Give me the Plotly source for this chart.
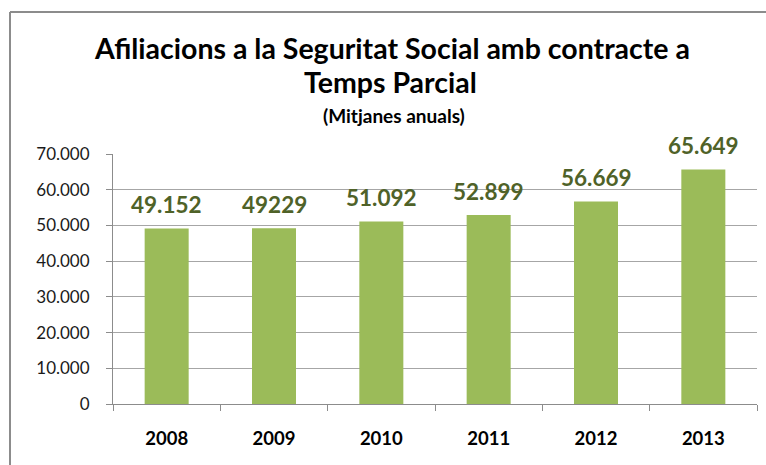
import plotly.graph_objects as go

years = ["2008", "2009", "2010", "2011", "2012", "2013"]
values = [49152, 49229, 51092, 52899, 56669, 65649]
value_labels = ["49.152", "49229", "51.092", "52.899", "56.669", "65.649"]
y_tickvals = [0, 10000, 20000, 30000, 40000, 50000, 60000, 70000]
y_ticktext = ["0", "10.000", "20.000", "30.000", "40.000", "50.000", "60.000", "70.000"]

W, H = 766, 465
L, R, T, B = 113, 9, 154, 61
pw, ph = W - L - R, H - T - B

def px(x):
    return (x - L) / pw

def py(y):
    return (H - B - y) / ph

FONT = "Lato, Calibri, Carlito, sans-serif"

fig = go.Figure()
fig.add_trace(go.Bar(
    x=years, y=values,
    marker=dict(color="#9BBB59", line=dict(width=0)),
    width=0.41,
    hoverinfo="skip",
))

for i, (v, lab) in enumerate(zip(values, value_labels)):
    fig.add_annotation(x=i, y=v, xref="x", yref="y", text=lab,
                       showarrow=False, xanchor="center", yanchor="middle",
                       yshift=24,
                       font=dict(family=FONT, size=22.5, color="#4F6228", weight="bold"))

fig.update_layout(
    width=W, height=H,
    margin=dict(l=L, r=R, t=T, b=B, autoexpand=False),
    paper_bgcolor="white",
    plot_bgcolor="white",
    showlegend=False,
    font=dict(family=FONT, color="#000000"),
    xaxis=dict(
        type="category",
        range=[-0.5, len(years) - 0.5],
        showline=True, linecolor="#8C8C8C", linewidth=1,
        ticks="outside", tickson="boundaries", ticklen=6, tickcolor="#8C8C8C",
        tickfont=dict(family=FONT, size=18.5, color="#000000", weight="bold"),
        showgrid=False,
        ticklabelstandoff=18,
    ),
    yaxis=dict(
        range=[0, 70000],
        tickvals=y_tickvals, ticktext=y_ticktext,
        showline=True, linecolor="#8C8C8C", linewidth=1,
        ticks="outside", ticklen=6, tickcolor="#8C8C8C",
        showgrid=True, gridcolor="#A6A6A6", gridwidth=1,
        zeroline=False,
        tickfont=dict(family=FONT, size=17, color="#1a1a1a"),
        ticklabelstandoff=13,
    ),
)

fig.add_annotation(text="Afiliacions a la Seguritat Social amb contracte a",
                   xref="paper", yref="paper", x=px(392), y=py(48),
                   showarrow=False, xanchor="center", yanchor="middle",
                   font=dict(family=FONT, size=28.5, color="#000000", weight="bold"))
fig.add_annotation(text="Temps Parcial",
                   xref="paper", yref="paper", x=px(390), y=py(82),
                   showarrow=False, xanchor="center", yanchor="middle",
                   font=dict(family=FONT, size=28.5, color="#000000", weight="bold"))
fig.add_annotation(text="(Mitjanes anuals)",
                   xref="paper", yref="paper", x=px(394), y=py(115),
                   showarrow=False, xanchor="center", yanchor="middle",
                   font=dict(family=FONT, size=19, color="#000000", weight="bold"))

fig.add_shape(type="line", xref="paper", yref="paper",
              x0=px(10), x1=px(770), y0=py(12), y1=py(12),
              line=dict(color="#8C8C8C", width=2))
fig.add_shape(type="line", xref="paper", yref="paper",
              x0=px(10), x1=px(10), y0=py(12), y1=py(470),
              line=dict(color="#8C8C8C", width=2))

fig.write_html("out.html", config={"displayModeBar": False},
               post_script="document.body.style.margin='0';")
